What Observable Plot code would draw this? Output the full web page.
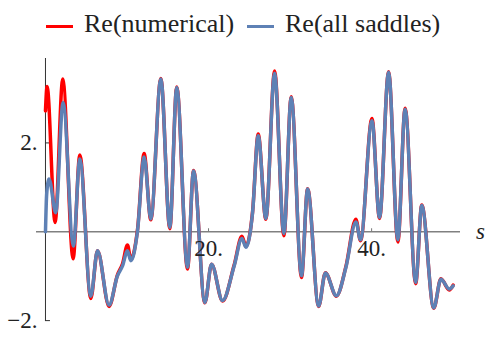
<!DOCTYPE html>
<html><head><meta charset="utf-8">
<script src="https://cdn.jsdelivr.net/npm/d3@7"></script>
<script src="https://cdn.jsdelivr.net/npm/@observablehq/plot@0.6"></script>
<style>
body{margin:0;background:#fff;}
#legend{position:relative;height:44px;width:488px;font-family:"Liberation Serif",serif;font-size:26px;color:#222;}
.sw{position:absolute;top:25px;width:27px;height:3px;}
.lt{position:absolute;top:11px;line-height:1;white-space:nowrap;}
</style></head><body>
<div id="legend"></div>
<div id="chart"></div>
<script>
// Re(all saddles)
const sSaddles = [0, 0.15, 0.44, 1.26, 2.16, 3.43, 4.21, 5.56, 6.38, 7.8, 8.83, 9.45, 10.06, 10.47, 11.29, 12.1, 12.92, 14.15, 15.25, 16.1, 17.42, 18.16, 19.55, 20.37, 21.72, 23.14, 24.09, 24.58, 25.4, 26.09, 27.03, 28.1, 29.24, 30.14, 31.4, 32.15, 33.5, 34.33, 35.68, 36.85, 38.07, 38.64, 40.04, 40.97, 42.08, 43.22, 44.11, 45.4, 46.15, 47.62, 48.5, 49.52, 50];
const ySaddles = [0, 0.85, 1.19, 0.43, 2.91, -0.32, 1.64, -1.45, -0.43, -1.65, -0.99, -0.77, -0.43, -0.65, 0.02, 1.68, 0.29, 3.44, 0.1, 3.25, -0.8, 1.37, -1.59, -0.73, -1.55, -0.77, -0.15, -0.35, 0.43, 2.16, 0.3, 3.57, -0.04, 3.02, -0.99, 0.96, -1.67, -0.93, -1.44, -0.8, 0.22, -0.18, 2.5, 0.32, 3.59, -0.18, 2.76, -1.14, 0.59, -1.71, -1.07, -1.29, -1.22];
// Re(numerical)
const sNumerical = [0, 0.2, 1.18, 2.12, 3.39, 4.21, 5.56, 6.38, 7.8, 8.83, 9.45, 10.06, 10.47, 11.29, 12.1, 12.92, 14.15, 15.25, 16.1, 17.42, 18.16, 19.55, 20.37, 21.72, 23.14, 24.09, 24.58, 25.4, 26.09, 27.03, 28.1, 29.24, 30.14, 31.4, 32.15, 33.5, 34.33, 35.68, 36.85, 38.07, 38.64, 40.04, 40.97, 42.08, 43.22, 44.11, 45.4, 46.15, 47.62, 48.5, 49.52, 50];
const yNumerical = [2.72, 3.27, 0.21, 3.44, -0.61, 1.73, -1.5, -0.43, -1.68, -0.97, -0.72, -0.3, -0.62, 0.05, 1.76, 0.27, 3.45, 0.07, 3.26, -0.84, 1.38, -1.6, -0.73, -1.56, -0.75, -0.1, -0.33, 0.45, 2.2, 0.28, 3.62, -0.09, 3.04, -1.03, 0.97, -1.68, -0.92, -1.45, -0.78, 0.28, -0.2, 2.55, 0.3, 3.6, -0.23, 2.78, -1.17, 0.6, -1.72, -1.06, -1.31, -1.2];
const xTicks = [20, 40];
const yTicks = [2, -2];
const seriesNames = ["Re(numerical)", "Re(all saddles)"];
const seriesColors = ["#ff0000", "#5e81b5"];

// legend
const legend = document.getElementById("legend");
const swLeft = [46, 247], txtLeft = [84, 285];
seriesNames.forEach((n, i) => {
  const sw = document.createElement("div");
  sw.className = "sw"; sw.style.left = swLeft[i] + "px"; sw.style.background = seriesColors[i];
  const t = document.createElement("div");
  t.className = "lt"; t.style.left = txtLeft[i] + "px"; t.textContent = n;
  legend.appendChild(sw); legend.appendChild(t);
});

const W = 488, H = 294, mT = 14, mB = 17, mL = 36, mR = 28;
const xDom = [-1.1, 50.9], yDom = [-2.02, 3.9];
const ky = (H - mT - mB) / (yDom[1] - yDom[0]);
const kx = (W - mL - mR) / (xDom[1] - xDom[0]);
const saddles = sSaddles.map((s, i) => ({s, v: ySaddles[i]}));
const numerical = sNumerical.map((s, i) => ({s, v: yNumerical[i]}));

const chart = Plot.plot({
  width: W, height: H, marginTop: mT, marginBottom: mB, marginLeft: mL, marginRight: mR,
  x: {domain: xDom, axis: null},
  y: {domain: yDom, axis: null},
  style: {fontFamily: "'Liberation Serif', serif", fontSize: "23px", background: "white", overflow: "visible"},
  marks: [
    Plot.ruleY([0], {stroke: "#808080", strokeWidth: 1.3}),
    Plot.ruleX([0], {stroke: "#333", strokeWidth: 1}),
    Plot.ruleX(xTicks, {x: d => d, y1: 0, y2: 3 / ky, stroke: "#777"}),
    Plot.ruleY(yTicks, {y: d => d, x1: 0, x2: 5 / kx, stroke: "#333"}),
    Plot.line(numerical, {x: "s", y: "v", stroke: seriesColors[0], strokeWidth: 3.5, curve: "monotone-x"}),
    Plot.line(saddles, {x: "s", y: "v", stroke: seriesColors[1], strokeWidth: 3.5, curve: "monotone-x"}),
    Plot.text(xTicks, {x: d => d, y: 0, text: d => d + ".", dy: 17, fill: "#222"}),
    Plot.text(yTicks, {x: 0, y: d => d, text: d => (d < 0 ? "\u2212" : "") + Math.abs(d) + ".", dx: -8, textAnchor: "end", fill: "#222"}),
    Plot.text(["s"], {x: xDom[1], y: 0, text: d => d, dx: 20, fontStyle: "italic", fill: "#222"})
  ]
});
document.getElementById("chart").appendChild(chart);
</script></body></html>
